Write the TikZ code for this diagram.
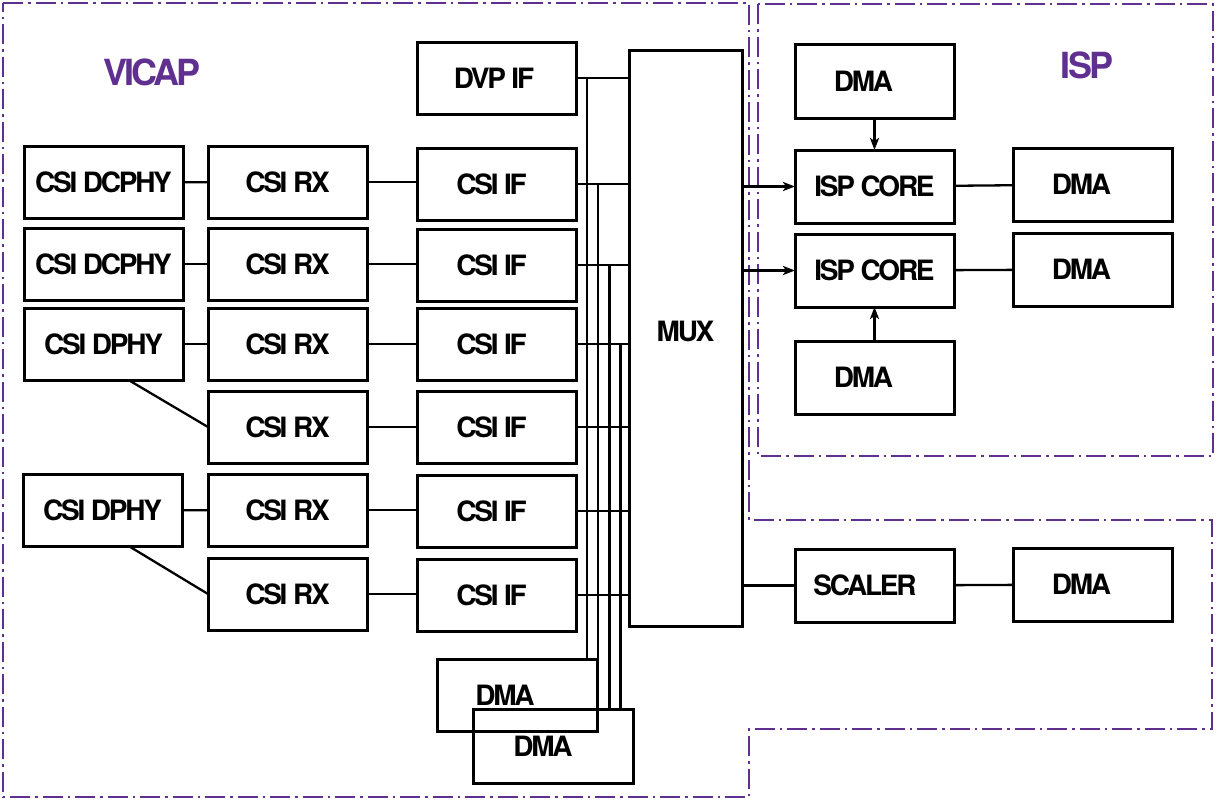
\documentclass[tikz,border=0pt]{standalone}
\usepackage{fontspec}
\setmainfont{TeX Gyre Heros}[LetterSpace=-8]
\usetikzlibrary{arrows.meta}
\definecolor{vio}{RGB}{96,48,145}
\begin{document}
\begin{tikzpicture}[x=1pt,y=-1pt,
  blk/.style={draw, line width=3pt, minimum width=159pt, minimum height=72pt,
    font=\fontsize{28}{30}\selectfont\bfseries, inner sep=0pt, outer sep=0pt},
  wire/.style={line width=2.3pt},
  arr/.style={wire, -{Stealth[length=12pt,width=9pt,inset=3pt]}},
  region/.style={draw=vio, line width=1.8pt, dash pattern=on 20pt off 5pt on 2.5pt off 5pt},
  title/.style={text=vio, font=\fontsize{36}{40}\selectfont\bfseries}]
\useasboundingbox (0,0) rectangle (1217,801);

% outlines of the two subsystems
\draw[region] (3,3) -- (749,3) -- (749,520) -- (1212,520) -- (1212,729)
  -- (749,729) -- (749,797) -- (3,797) -- cycle;
\draw[region, line width=2.4pt] (758,4) rectangle (1213,456);

\node[title] (vicapt) at (152,72) {VICAP};
\node[title] (ispt) at (1087,65) {ISP};

% capture side
\node[blk] (dvp) at (496.5,78) {\kern-5pt DVP IF};
\node[blk, minimum width=113pt, minimum height=576pt] (mux) at (685.5,338) {\raisebox{13pt}{MUX}};
\foreach \i/\y in {1/184,2/265,3/344,4/427,5/511,6/595}
  \node[blk] (if\i) at (496.5,\y) {\kern-10pt CSI IF};
\foreach \i/\y in {1/182,2/264,3/344,4/427,5/510,6/594}
  \node[blk] (rx\i) at (287.5,\y) {CSI RX};
\node[blk] (phy1) at (103.5,182.5) {CSI DCPHY};
\node[blk] (phy2) at (103.5,264) {CSI DCPHY};
\node[blk] (phy3) at (103.5,344) {CSI DPHY};
\node[blk] (phy5) at (102.5,510.5) {CSI DPHY};
\node[blk, minimum width=160pt] (dma1) at (517,695) {\kern-24pt DMA};
\node[blk, minimum width=160pt, minimum height=74pt] (dma2) at (553,746) {\kern-20pt DMA};

\draw[wire] (phy1) -- (rx1);
\draw[wire] (phy2) -- (rx2);
\draw[wire] (phy3) -- (rx3);
\draw[wire] (phy5) -- (rx5);
\draw[wire] ([xshift=25pt]phy3.south) -- (rx4.west);
\draw[wire] ([xshift=27pt]phy5.south) -- (rx6.west);
\foreach \i in {1,...,6}{
  \draw[wire] (rx\i.east) -- (rx\i.east -| if\i.west);
  \draw[wire] (if\i.east) -- (if\i.east -| mux.west);
}
\draw[wire] (dvp.east) -- (dvp.east -| mux.west);

% write-back buses to the DMA engines
\coordinate (b1) at (587,0);
\coordinate (b2) at (598,0);
\coordinate (b3) at (609.5,0);
\coordinate (b4) at (620.5,0);
\draw[wire] (dvp.east -| b1) -- (b1 |- dma1.north);
\draw[wire] (if1.east -| b2) -- (b2 |- dma2.north);
\draw[wire] (if2.east -| b3) -- (b3 |- dma2.north);
\draw[wire] (if3.east -| b4) -- (b4 |- dma2.north);

% ISP side
\node[blk, minimum height=74pt] (dmat) at (874.5,81) {\kern-22pt DMA};
\node[blk, minimum height=73pt] (core1) at (874.5,186.5) {ISP CORE};
\node[blk, minimum height=73pt] (dmar1) at (1092.5,184.5) {\kern-22pt DMA};
\node[blk, minimum height=73pt] (core2) at (874.5,270.5) {ISP CORE};
\node[blk, minimum height=73pt] (dmar2) at (1092.5,269.5) {\kern-22pt DMA};
\node[blk, minimum height=73pt] (dmab) at (874.5,377.5) {\kern-22pt DMA};
\node[blk, minimum height=73pt] (scaler) at (874.5,585.5) {\kern-19pt SCALER};
\node[blk, minimum height=73pt] (dmas) at (1092.5,584.5) {\kern-22pt DMA};

\draw[arr] (mux.east |- core1.west) -- (core1.west);
\draw[arr] (mux.east |- core2.west) -- (core2.west);
\draw[arr] (dmat) -- (core1);
\draw[arr] (dmab) -- (core2);
\draw[wire] (core1) -- (dmar1);
\draw[wire] (core2) -- (dmar2);
\draw[wire] (mux.east |- scaler.west) -- (scaler.west);
\draw[wire] (scaler) -- (dmas);
\end{tikzpicture}
\end{document}
